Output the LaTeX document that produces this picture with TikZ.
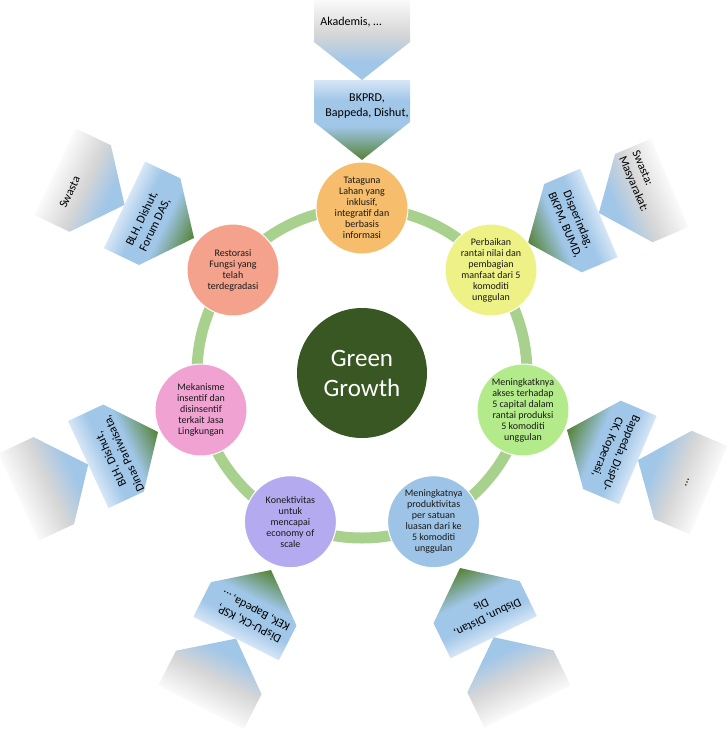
\documentclass[tikz,border=0pt]{standalone}
\usepackage{fontspec}
\setmainfont{Carlito}
\definecolor{ringc}{RGB}{169,209,142}
\definecolor{ggreen}{RGB}{56,87,35}
\definecolor{cTata}{RGB}{245,189,108}
\definecolor{cPerb}{RGB}{238,242,134}
\definecolor{cAkses}{RGB}{179,235,139}
\definecolor{cProd}{RGB}{157,195,230}
\definecolor{cKon}{RGB}{180,170,240}
\definecolor{cMek}{RGB}{240,162,210}
\definecolor{cRes}{RGB}{245,162,140}
\definecolor{ig}{RGB}{84,130,53}
\definecolor{ib}{RGB}{160,198,232}
\definecolor{il}{RGB}{214,230,246}
\definecolor{ob}{RGB}{160,198,232}
\definecolor{og}{RGB}{214,214,214}
\definecolor{ow}{RGB}{250,250,250}
\pgfdeclareverticalshading{innersh}{100bp}{color(0bp)=(ig); color(25bp)=(ig); color(46bp)=(ib); color(62bp)=(ib); color(75bp)=(il); color(100bp)=(il)}
\pgfdeclareverticalshading{outersh}{100bp}{color(0bp)=(ob); color(25bp)=(ob); color(36bp)=(ob); color(54bp)=(og); color(75bp)=(ow); color(100bp)=(ow)}
\tikzset{
 cnode/.style={circle, minimum size=92pt, inner sep=0pt, align=center,
   font=\fontsize{10}{11}\selectfont, text=black!90, draw=white, line width=1pt},
 intext/.style={align=center, font=\fontsize{12}{14.5}\selectfont, inner sep=0pt},
 outtext/.style={align=left, font=\fontsize{12}{14.5}\selectfont, inner sep=0pt},
 ringline/.style={draw=ringc, line width=11pt},
}
% #1 name, #2 tip (x,y), #3 rotation, #4 length, #5 inner text, #6 outer text, #7 inner text pos, #8 outer text pos
\newcommand\apair[8]{%
  \begin{scope}[transform canvas={shift={(#2)},rotate=#3}]
    \shade[shading=innersh] (0,0) -- (48,-38) -- (48,-#4) -- (-48,-#4) -- (-48,-38) -- cycle;
    \shade[shading=outersh] (0,-#4) -- (48,-#4-38) -- (48,-2*#4) -- (-48,-2*#4) -- (-48,-#4-38) -- cycle;
    \node[intext] (#1in) at (#7) {#5};
    \node[outtext] (#1out) at (#8) {#6};
  \end{scope}}
\begin{document}
\begin{tikzpicture}[x=1pt,y=-1pt]
\useasboundingbox (0,0) rectangle (726,739);
\node[circle, fill=ggreen, minimum size=130pt, inner sep=0pt, text=white, align=center,
  font=\fontsize{25}{30}\selectfont] (gg) at (362,373) {Green\\Growth};
\draw[ringline] (gg.center) circle[radius=165pt];

\apair{t}{362,160}{0}{80}{BKPRD,\\Bappeda, Dishut,}{Akademis, …}{5,-54}{-11,-138}
\apair{ur}{528,243}{-67}{77}{Disperindag,\\BKPM, BUMD,}{Swasta:\\Masyarakat:}{-2,-48}{-13,-127}
\apair{r}{567,430}{-113}{77}{Bappeda, DisPU-\\CK, Koperasi,}{…}{0,-51}{1,-131}
\apair{lr}{460,568}{-154}{77}{Disbun, Distan,\\Dis}{}{-3,-50}{0,-130}
\apair{ll}{271,570}{153}{77}{DisPU-CK, KSP,\\KEK, Bapeda, …}{}{-5,-50}{0,-130}
\apair{l}{158,432}{115}{77}{BLH, Dishut,\\Dinas Pariwisata,}{}{-5,-47}{0,-130}
\apair{ul}{194,238}{64.5}{77}{BLH, Dishut,\\Forum DAS,}{Swasta}{-5,-48}{-12,-132}

\node[cnode, fill=cTata] (c1) at (362,208) {Tataguna\\Lahan yang\\inklusif,\\integratif dan\\berbasis\\informasi};
\node[cnode, fill=cPerb] (c2) at (491,270) {Perbaikan\\rantai nilai dan\\pembagian\\manfaat dari 5\\komoditi\\unggulan};
\node[cnode, fill=cAkses] (c3) at (523,410) {Meningkatknya\\akses terhadap\\5 capital dalam\\rantai produksi\\5 komoditi\\unggulan};
\node[cnode, fill=cProd] (c4) at (433.6,521.7) {Meningkatnya\\produktivitas\\per satuan\\luasan dari ke\\5 komoditi\\unggulan};
\node[cnode, fill=cKon] (c5) at (290.4,521.7) {Konektivitas\\untuk\\mencapai\\economy of\\scale};
\node[cnode, fill=cMek] (c6) at (201,410) {Mekanisme\\insentif dan\\disinsentif\\terkait Jasa\\Lingkungan};
\node[cnode, fill=cRes] (c7) at (233,270) {Restorasi\\Fungsi yang\\telah\\terdegradasi};
\end{tikzpicture}
\end{document}
